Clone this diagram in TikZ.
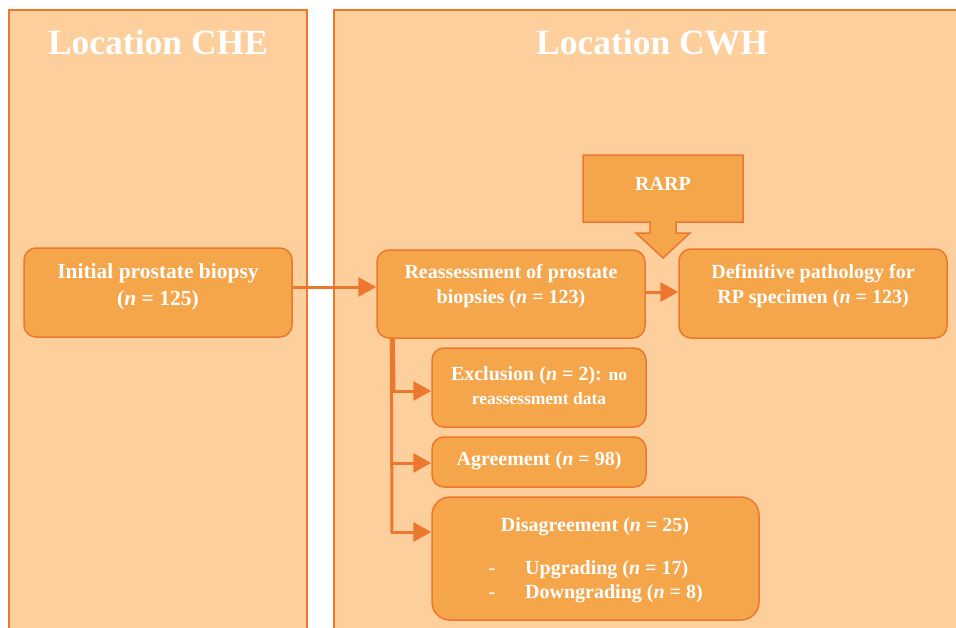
\documentclass[tikz,border=0pt]{standalone}
\usepackage{fontspec}
\setmainfont{Liberation Serif}
\usetikzlibrary{arrows.meta}
\definecolor{panelfill}{HTML}{FDCF9C}
\definecolor{boxfill}{HTML}{F5A64B}
\definecolor{edgecol}{HTML}{EC772E}
\tikzset{
  panel/.style={draw=edgecol, fill=panelfill, line width=1.5pt},
  box/.style={draw=edgecol, fill=boxfill, line width=1.5pt, rounded corners=12pt, inner sep=0pt},
  txt/.style={text=white, align=center, inner sep=0pt, font=\fontsize{20}{25}\selectfont\bfseries},
  ttl/.style={text=white, inner sep=0pt, font=\fontsize{35.5}{40}\selectfont\bfseries},
  conn/.style={draw=edgecol, line width=3pt, -{Triangle[length=18pt,width=19pt]}},
  trunk/.style={draw=edgecol, line width=3pt}
}
\begin{document}
\begin{tikzpicture}[x=1pt,y=-1pt]
\useasboundingbox (0,0) rectangle (956,627);
\clip (0,0) rectangle (956,627);
% panels
\draw[panel] (9,10) rectangle (307,640);
\draw[panel] (334,10) rectangle (975,640);
\node[ttl] (che) at (158,42) {Location CHE};
\node[ttl] (cwh) at (652,42) {Location CWH};
% boxes
\node[box, minimum width=268pt, minimum height=89pt] (init) at (158,292.5) {};
\node[txt, font=\fontsize{21.5}{27}\selectfont\bfseries] (initT) at (158,287) {Initial prostate biopsy\\(\textit{n} = 125)};
\node[box, minimum width=268pt, minimum height=88pt] (reass) at (511,294) {};
\node[txt] (reassT) at (511,286) {Reassessment of prostate\\biopsies (\textit{n} = 123)};
\node[box, minimum width=268pt, minimum height=89pt] (def) at (813,293.5) {};
\node[txt] (defT) at (813,286) {Definitive pathology for\\RP specimen (\textit{n} = 123)};
% RARP callout
\draw[draw=edgecol, fill=boxfill, line width=1.5pt] (583,155) -- (743,155) -- (743,222) -- (676,222) -- (676,233) -- (690,233) -- (663,258) -- (636,233) -- (650,233) -- (650,222) -- (583,222) -- cycle;
\node[txt] (rarpT) at (663,184) {RARP};
% lower boxes
\node[box, minimum width=214pt, minimum height=79pt] (excl) at (539,387.5) {};
\node[txt, font=\fontsize{20}{24}\selectfont\bfseries] (exclT) at (539,386) {Exclusion (\textit{n} = 2): {\fontsize{17.5}{24}\selectfont no}\\{\fontsize{17.5}{24}\selectfont reassessment data}};
\node[box, minimum width=214pt, minimum height=50pt] (agree) at (539,462) {};
\node[txt] (agreeT) at (539,461) {Agreement (\textit{n} = 98)};
\node[box, minimum width=327pt, minimum height=123pt, rounded corners=18pt] (dis) at (595.5,558.5) {};
\node[txt] (disT) at (595,527) {Disagreement (\textit{n} = 25)};
\node[txt, anchor=base] (d1) at (492,574.5) {-};
\node[txt, anchor=base west] (up) at (525,574.5) {Upgrading (\textit{n} = 17)};
\node[txt, anchor=base] (d2) at (492,598.5) {-};
\node[txt, anchor=base west] (down) at (525,598.5) {Downgrading (\textit{n} = 8)};
% connectors
\draw[conn] ([yshift=5.5pt]init.east) -- ([yshift=7pt]reass.west);
\draw[conn] (reass.east |- 0,292) -- (def.west |- 0,292);
\coordinate (b1) at (392,391);
\coordinate (b2) at (392,463);
\coordinate (b3) at (392,532);
\draw[trunk] ([xshift=15pt]reass.south west) -- ([yshift=-1.5pt]b3);
\draw[draw=edgecol, line width=5pt] ([xshift=16pt]reass.south west) -- ([xshift=1pt]b1);
\draw[conn] (b1) -- (excl.west |- b1);
\draw[conn] (b2) -- (agree.west |- b2);
\draw[conn] ([xshift=-1.5pt]b3) -- (dis.west |- b3);
\end{tikzpicture}
\end{document}
